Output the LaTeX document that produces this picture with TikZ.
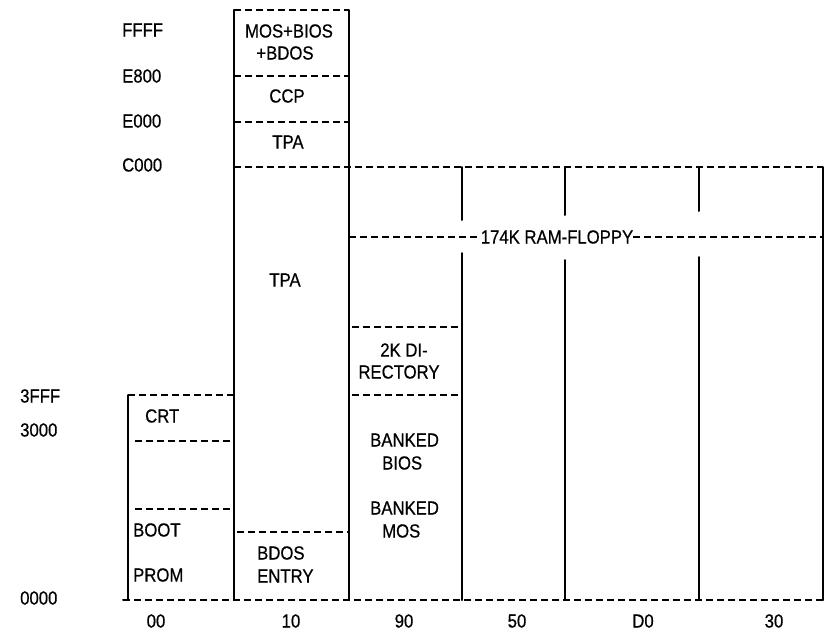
\documentclass[tikz,border=0pt]{standalone}
\usepackage{fontspec}
\setmainfont{Liberation Sans}[FakeStretch=0.88,FakeBold=0.6]
\begin{document}
\begin{tikzpicture}[x=1pt,y=-1pt,
  wall/.style={line width=2pt, line cap=round},
  dline/.style={line width=2pt, dash pattern=on 7pt off 4pt},
  lbl/.style={font=\fontsize{19}{21}\selectfont, inner sep=0pt}]
\useasboundingbox (0,0) rectangle (827,632);
% solid vertical lines
\draw[wall] (128,395) -- (128,600) -- (123,600);
\draw[wall] (234,10) -- (234,600);
\draw[wall] (349,10) -- (349,600);
\draw[wall] (462,167) -- (462,220);
\draw[wall] (462,253) -- (462,600);
\draw[wall] (565,167) -- (565,215);
\draw[wall] (565,260) -- (565,600);
\draw[wall] (699,167) -- (699,211);
\draw[wall] (699,257) -- (699,600);
\draw[wall] (823,167) -- (823,600);
% dashed horizontal lines
\draw[dline] (234,10) -- (349,10);
\draw[dline] (234,76) -- (349,76);
\draw[dline] (234,122) -- (349,122);
\draw[dline] (234,167) -- (823,167);
\draw[dline] (128,395) -- (234,395);
\draw[dline] (135,441) -- (234,441);
\draw[dline] (135,509) -- (234,509);
\draw[dline] (237,532) -- (349,532);
\draw[dline] (352,327) -- (462,327);
\draw[dline] (352,395) -- (462,395);
\draw[dline] (123,600) -- (823,600);
% RAM floppy
\node[lbl] (rf) at (557,237) {174K RAM-FLOPPY};
\draw[dline] (349,237) -- (rf.west);
\draw[dline] (rf.east) -- (823,237);
% address labels
\node[lbl,anchor=west] (aFFFF) at (122,30) {FFFF};
\node[lbl,anchor=west] (aE800) at (122,76) {E800};
\node[lbl,anchor=west] (aE000) at (122,121) {E000};
\node[lbl,anchor=west] (aC000) at (122,165) {C000};
\node[lbl,anchor=west] (a3FFF) at (20,396) {3FFF};
\node[lbl,anchor=west] (a3000) at (20,430) {3000};
\node[lbl,anchor=west] (a0000) at (20,598) {0000};
% bank labels
\node[lbl] (b00) at (156,621) {00};
\node[lbl] (b10) at (291,621) {10};
\node[lbl] (b90) at (404,621) {90};
\node[lbl] (b50) at (517,621) {50};
\node[lbl] (bD0) at (643,621) {D0};
\node[lbl] (b30) at (774,621) {30};
% column 10
\node[lbl] (mos1) at (289,31) {MOS+BIOS};
\node[lbl] (mos2) at (285,53) {+BDOS};
\node[lbl] (ccp) at (287,96) {CCP};
\node[lbl] (tpa1) at (288,142) {TPA};
\node[lbl] (tpa2) at (285,280) {TPA};
\node[lbl,anchor=west] (bd1) at (257,553) {BDOS};
\node[lbl,anchor=west] (bd2) at (257,576) {ENTRY};
% column 00
\node[lbl,anchor=west] (crt) at (145,416) {CRT};
\node[lbl,anchor=west] (boot) at (133,530) {BOOT};
\node[lbl,anchor=west] (prom) at (133,575) {PROM};
% column 90
\node[lbl] (dir1) at (404,350) {2K DI-};
\node[lbl] (dir2) at (399,372) {RECTORY};
\node[lbl,anchor=west] (bb1) at (370,440) {BANKED};
\node[lbl,anchor=west] (bb2) at (382,463) {BIOS};
\node[lbl,anchor=west] (bm1) at (370,508) {BANKED};
\node[lbl,anchor=west] (bm2) at (382,531) {MOS};
\end{tikzpicture}
\end{document}
